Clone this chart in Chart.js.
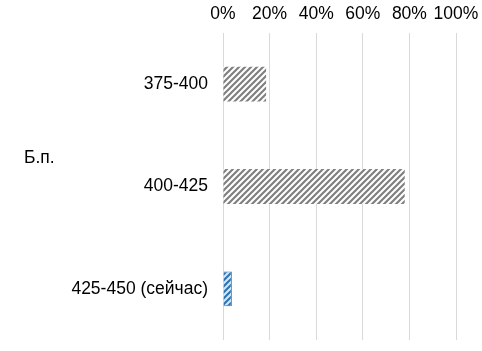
<!DOCTYPE html>
<html>
<head>
<meta charset="utf-8">
<script src="https://cdn.jsdelivr.net/npm/chart.js@4.4.0/dist/chart.umd.min.js"></script>
<style>
  html, body { margin: 0; padding: 0; background: #fff; }
  #wrap { width: 482px; height: 351px; }
</style>
</head>
<body>
<div id="wrap"><canvas id="chart"></canvas></div>
<script>
const categories = ['375-400', '400-425', '425-450 (сейчас)'];
const values = [18.5, 78, 3.8];
const xTicks = [0, 20, 40, 60, 80, 100];
const groupLabel = 'Б.п.';

// diagonal "/" hatch like the Excel pattern fill
function hatch(stripe, bg) {
  const c = document.createElement('canvas');
  c.width = 6; c.height = 6;
  const g = c.getContext('2d');
  g.fillStyle = bg;
  g.fillRect(0, 0, 6, 6);
  g.strokeStyle = stripe;
  g.lineWidth = 2.2;
  g.beginPath();
  g.moveTo(-1, 7); g.lineTo(7, -1);
  g.moveTo(-4, 4); g.lineTo(4, -4);
  g.moveTo(2, 10); g.lineTo(10, 2);
  g.stroke();
  return g.createPattern(c, 'repeat');
}

const ctx = document.getElementById('chart');
const grayHatch = hatch('#808080', '#ffffff');
const blueHatch = hatch('#2e75b6', '#d6e8f7');
const font = { family: '"Liberation Sans", Arial, sans-serif', size: 17.5 };

const groupLabelPlugin = {
  id: 'groupLabel',
  afterDraw(chart) {
    const g = chart.ctx;
    const a = chart.chartArea;
    g.save();
    g.font = '17.5px "Liberation Sans", Arial, sans-serif';
    g.fillStyle = '#000';
    g.textAlign = 'left';
    g.textBaseline = 'middle';
    g.fillText(groupLabel, 24, (a.top + a.bottom) / 2 - 28);
    g.restore();
  }
};

new Chart(ctx, {
  type: 'bar',
  data: {
    labels: categories,
    datasets: [{
      data: values,
      backgroundColor: [grayHatch, grayHatch, blueHatch],
      borderColor: ['rgba(0,0,0,0)', 'rgba(0,0,0,0)', '#2e75b6'],
      borderWidth: [0, 0, 1],
      categoryPercentage: 1,
      barPercentage: 0.34
    }]
  },
  options: {
    indexAxis: 'y',
    responsive: true,
    maintainAspectRatio: false,
    animation: false,
    layout: { padding: 0 },
    plugins: {
      legend: { display: false },
      tooltip: { enabled: false }
    },
    scales: {
      x: {
        position: 'top',
        min: 0,
        max: 100,
        afterBuildTicks: s => { s.ticks = xTicks.map(v => ({ value: v })); },
        afterFit: s => { s.height = 33; s.paddingRight = 26; s.paddingLeft = 0; },
        ticks: {
          callback: v => v + '%',
          color: '#000',
          padding: 8,
          minRotation: 0,
          maxRotation: 0,
          autoSkip: false,
          font
        },
        grid: { color: '#d9d9d9', drawTicks: false },
        border: { display: false }
      },
      y: {
        afterFit: s => { s.width = 223; s.paddingTop = 0; s.paddingBottom = 11; },
        ticks: { color: '#000', padding: 15, font },
        grid: { display: false, drawTicks: false },
        border: { display: false }
      }
    }
  },
  plugins: [groupLabelPlugin]
});
</script>
</body>
</html>
